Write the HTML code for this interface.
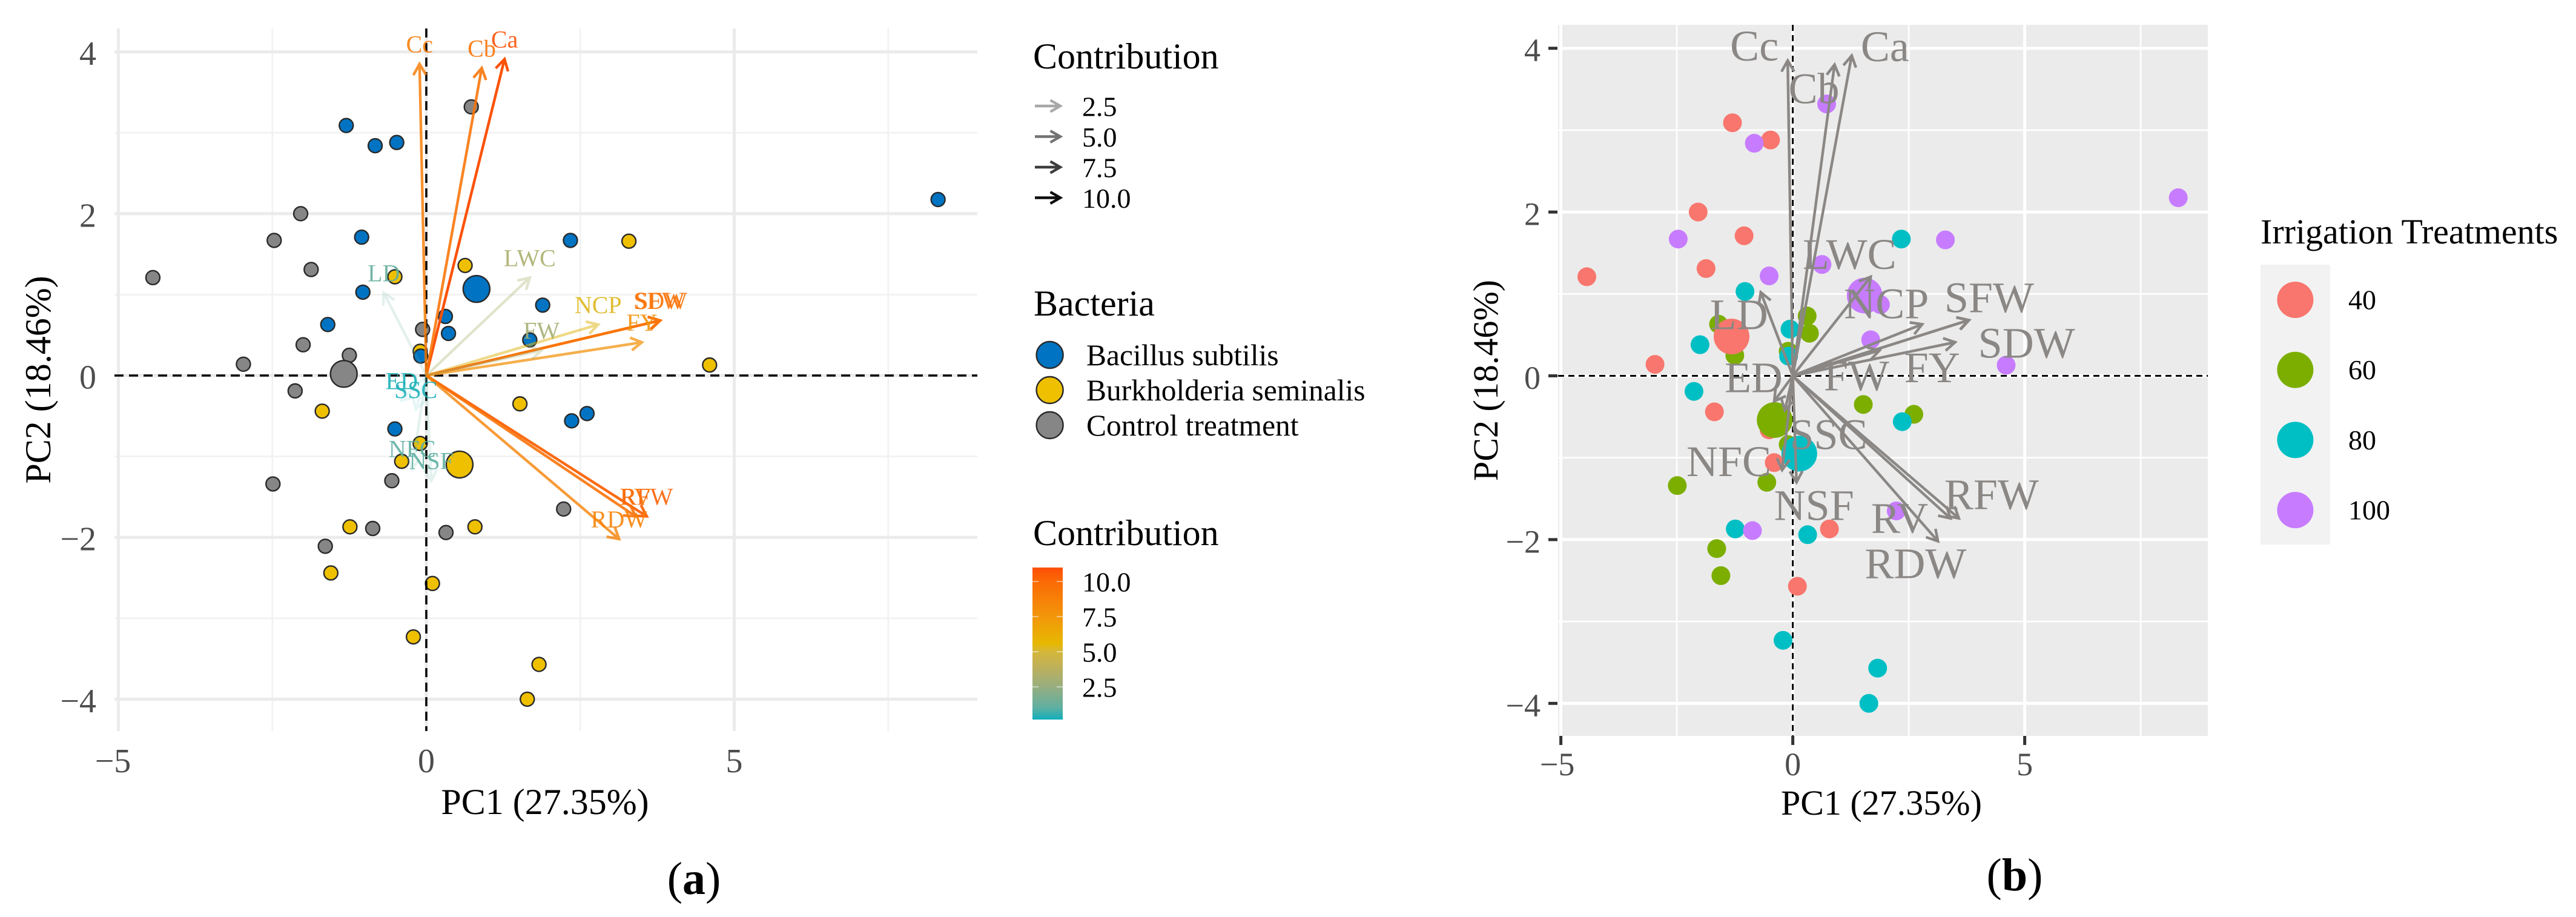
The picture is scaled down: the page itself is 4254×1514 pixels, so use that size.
<!DOCTYPE html>
<html lang="en">
<head>
<meta charset="utf-8">
<title>PCA biplots by bacteria and irrigation treatment</title>
<style>
  html, body { margin: 0; padding: 0; background: #fff; }
  svg { display: block; font-family: "Liberation Serif", serif; }
</style>
</head>
<body>
<svg id="figure" xmlns="http://www.w3.org/2000/svg" width="4254" height="1514" viewBox="0 0 4254 1514">
  <defs>
    <linearGradient id="contribution-gradient" x1="0" y1="1" x2="0" y2="0"></linearGradient>
  </defs>
  <rect x="0" y="0" width="4254" height="1514" fill="#ffffff"/>

  <g id="panel-a"></g>
  <g id="panel-b"></g>

  <text x="900" y="1344" font-size="60" text-anchor="middle" fill="#000">PC1 (27.35%)</text>
  <text transform="translate(83,627) rotate(-90)" font-size="60" text-anchor="middle" fill="#000">PC2 (18.46%)</text>
  <text x="3107" y="1345" font-size="58" text-anchor="middle" fill="#000">PC1 (27.35%)</text>
  <text transform="translate(2473,628) rotate(-90)" font-size="58" text-anchor="middle" fill="#000">PC2 (18.46%)</text>

  <g>
    <text x="1706" y="113" font-size="60" fill="#000">Contribution</text>
    <g id="alpha-legend-keys"></g>
  </g>

  <g>
    <text x="1707" y="521" font-size="60" fill="#000">Bacteria</text>
    <g id="bacteria-legend-keys"></g>
  </g>

  <g>
    <text x="1706" y="900" font-size="60" fill="#000">Contribution</text>
    <rect x="1705" y="937" width="50" height="251" fill="url(#contribution-gradient)"/>
    <g id="colorbar-ticks"></g>
  </g>

  <g>
    <text x="3733" y="402" font-size="58" fill="#000">Irrigation Treatments</text>
    <rect x="3733" y="437" width="115" height="462" fill="#F2F2F2"/>
    <g id="irrigation-legend-keys"></g>
  </g>

  <text x="1146" y="1476" font-size="76" text-anchor="middle" fill="#000">(<tspan font-weight="bold">a</tspan>)</text>
  <text x="3327" y="1470" font-size="76" text-anchor="middle" fill="#000">(<tspan font-weight="bold">b</tspan>)</text>
</svg>

<script>
// ---- Individuals (shared by both biplots) ----
const pc1 = [-1.30,-0.83,-0.48,-1.05,2.34,-1.03,-1.60,0.31,0.36,1.89,1.68,-0.09,2.61,2.36,-0.51,8.31,
             -0.10,0.63,-0.51,-1.69,3.29,4.60,1.52,-0.10,-0.40,-1.24,0.79,-1.55,0.10,-0.21,1.83,1.64,
             0.73,-2.04,-2.47,-1.87,-4.44,-2.00,-2.97,-1.25,-0.06,-2.13,-2.49,-0.56,-0.87,-1.64,0.32,2.23];
const pc2 = [3.09,2.84,2.88,1.71,1.67,1.03,0.63,0.73,0.52,0.87,0.44,0.24,-0.47,-0.56,-0.66,2.175,
             0.30,1.36,1.22,-0.44,1.66,0.13,-0.35,-0.84,-1.06,-1.87,-1.87,-2.44,-2.57,-3.23,-3.57,-4.00,
             3.32,2.00,1.67,1.31,1.21,0.38,0.14,0.25,0.57,-0.19,-1.34,-1.30,-1.89,-2.11,-1.94,-1.65];
const bacteriaOf = [0,0,0,0,0,0,0,0,0,0,0,0,0,0,0,0,
                    1,1,1,1,1,1,1,1,1,1,1,1,1,1,1,1,
                    2,2,2,2,2,2,2,2,2,2,2,2,2,2,2,2];
const irrigationOf = [0,3,0,0,2,2,1,1,1,3,3,2,1,2,0,3,
                      1,3,3,0,3,3,1,1,0,2,0,1,0,2,2,2,
                      3,0,3,0,0,2,0,1,2,2,1,1,3,1,2,3];

// ---- Group names and centroids ----
const bacteriaNames = ["Bacillus subtilis","Burkholderia seminalis","Control treatment"];
const bacteriaCentroidX = [0.815,0.54,-1.34];
const bacteriaCentroidY = [1.07,-1.10,0.02];
const irrigationNames = ["40","60","80","100"];
const irrigationCentroidX = [-1.32,-0.39,0.14,1.55];
const irrigationCentroidY = [0.48,-0.54,-0.95,0.98];

// ---- Variables (arrows) ----
const varNames = ["Ca","Cb","Cc","LWC","NCP","SFW","SDW","FY","FW","LD","ED","SSC","NFC","NSF","RFW","RV","RDW"];
const varPC1 = [1.27,0.90,-0.11,1.68,2.79,3.79,3.80,3.50,1.87,-0.69,-0.40,-0.17,-0.23,0.08,3.58,3.40,3.13];
const varPC2 = [3.91,3.80,3.85,1.21,0.63,0.68,0.68,0.41,0.31,1.02,-0.31,-0.42,-1.15,-1.30,-1.74,-1.74,-2.02];
const varContrib = [10.9,9.5,9.0,3.2,5.3,9.6,9.5,7.7,3.0,1.2,0.3,0.3,1.0,1.0,10.3,9.6,8.6];

// ---- Axis ticks ----
const xMajorTicks = [-5,0,5];
const xMinorTicks = [-2.5,2.5,7.5];
const yMajorTicks = [4,2,0,-2,-4];
const yMinorTicks = [3,1,-1,-3];
const contribTicks = [10,7.5,5,2.5];

// ---- Layout and style (not data) ----
const A = {left:189,right:1614,top:47,bottom:1207,x0:704,xu:101.7,y0:620,yu:133.6};
const B = {left:2573,right:3646,top:41,bottom:1215,x0:2960.6,xu:76.6,y0:620.5,yu:135.2};
const xA = v => A.x0 + A.xu*v, yA = v => A.y0 - A.yu*v;
const xB = v => B.x0 + B.xu*v, yB = v => B.y0 - B.yu*v;
const bacteriaFill = ["#0073C2","#EFC000","#868686"];
const irrigationFill = ["#F8766D","#7CAE00","#00BFC4","#C77CFF"];
const bacteriaDrawOrder = [1,0,2];
const gradientValues = [0.17,1,2.5,4,5,5.6,7.5,10,11];
const gradientColors = ["#0FAFBB","#5EAFA2","#97AE80","#C1B158","#D4B63A","#E7B800","#F2960A","#FB6A05","#FC4E07"];
const bLabelNudge = {Ca:[55,-15],Cb:[-34,40],Cc:[-55,-24],LWC:[-35,-37],NCP:[-59,-34],SFW:[34,-37],SDW:[95,38],
  FY:[-38,42],FW:[-38,42],LD:[-36,37],ED:[-34,-39],SSC:[72,40],NFC:[-88,-14],NSF:[29,38],RFW:[54,-39],RV:[-84,0],RDW:[-37,37]};

const NS = "http://www.w3.org/2000/svg";
const make = (parent, tag, attrs) => {
  const el = document.createElementNS(NS, tag);
  Object.keys(attrs).forEach(k => el.setAttribute(k, attrs[k]));
  parent.appendChild(el);
  return el;
};
const hexRgb = h => [1,3,5].map(i => parseInt(h.substr(i,2),16));
function contribColor(c) {
  let i = 0;
  while (i < gradientValues.length-2 && c > gradientValues[i+1]) i++;
  const t = Math.max(0, Math.min(1, (c-gradientValues[i])/(gradientValues[i+1]-gradientValues[i])));
  const a = hexRgb(gradientColors[i]), b = hexRgb(gradientColors[i+1]);
  return "rgb(" + a.map((v,k) => Math.round(v+(b[k]-v)*t)).join(",") + ")";
}
const contribAlpha = c => Math.min(1, 0.1 + 0.9*(c-0.17)/10.8);
function arrowPath(x0,y0,x1,y1,head) {
  const ang = Math.atan2(y1-y0,x1-x0), s = Math.PI/6;
  const hx1 = x1-head*Math.cos(ang-s), hy1 = y1-head*Math.sin(ang-s);
  const hx2 = x1-head*Math.cos(ang+s), hy2 = y1-head*Math.sin(ang+s);
  return `M${x0} ${y0}L${x1} ${y1}M${hx1} ${hy1}L${x1} ${y1}L${hx2} ${hy2}`;
}
const tickText = v => String(Math.abs(v)).replace(/^/, v<0 ? "\u2212" : "");

// ---- Colorbar gradient ----
const grad = document.getElementById("contribution-gradient");
gradientValues.forEach((v,i) => {
  make(grad,"stop",{offset:(v-0.17)/(11-0.17),"stop-color":gradientColors[i]});
});

// ---- Panel frame: background, grid, ticks ----
function drawFrame(g, P, xf, yf, opt) {
  if (opt.bg) {
    const bg = make(g,"rect",{x:P.left,y:P.top,width:P.right-P.left,height:P.bottom-P.top,fill:opt.bg});
    
    
  }
  xMinorTicks.forEach(v => {
    const l = make(g,"line",{x1:xf(v),x2:xf(v),y1:P.top,y2:P.bottom,stroke:opt.minor,"stroke-width":2.6});
    
    
  });
  yMinorTicks.forEach(v => {
    const l = make(g,"line",{x1:P.left,x2:P.right,y1:yf(v),y2:yf(v),stroke:opt.minor,"stroke-width":2.6});
    
    
  });
  xMajorTicks.forEach(v => {
    const l = make(g,"line",{x1:xf(v),x2:xf(v),y1:P.top,y2:P.bottom,stroke:opt.major,"stroke-width":5});
    
    
  });
  yMajorTicks.forEach(v => {
    const l = make(g,"line",{x1:P.left,x2:P.right,y1:yf(v),y2:yf(v),stroke:opt.major,"stroke-width":5});
    
    
  });
  xMajorTicks.forEach(v => {
    if (opt.tickMarks) {
      const m = make(g,"line",{x1:xf(v),x2:xf(v),y1:P.bottom,y2:P.bottom+15,stroke:"#333","stroke-width":5});
      
      
    }
    const t = make(g,"text",{x:xf(v)+(v<0?opt.negShift:0),y:opt.xTickY,"text-anchor":"middle","font-size":opt.tickSize,fill:"#4D4D4D"});
    t.textContent = tickText(v);
    
    
  });
  yMajorTicks.forEach(v => {
    if (opt.tickMarks) {
      const m = make(g,"line",{x1:P.left-16,x2:P.left-1,y1:yf(v),y2:yf(v),stroke:"#333","stroke-width":5});
      
      
    }
    const t = make(g,"text",{x:opt.yTickX,y:yf(v)+21.5,"text-anchor":"end","font-size":opt.tickSize,fill:"#4D4D4D"});
    t.textContent = tickText(v);
    
    
  });
}
function drawZeroLines(g, P, xf, yf, dash, w) {
  const h = make(g,"line",{x1:P.left,x2:P.right,y1:yf(0),y2:yf(0),stroke:"#000","stroke-width":w,"stroke-dasharray":dash});
  
  
  const v = make(g,"line",{x1:xf(0),x2:xf(0),y1:P.top,y2:P.bottom,stroke:"#000","stroke-width":w,"stroke-dasharray":dash});
  
  
}

// ---- Panel A ----
const gA = document.getElementById("panel-a");
drawFrame(gA, A, xA, yA, {major:"#EBEBEB",minor:"#F1F1F1",tickMarks:false,tickSize:56,xTickY:1275,yTickX:159,negShift:-9});
bacteriaDrawOrder.forEach(b => {
  pc1.forEach((x,i) => {
    if (bacteriaOf[i] !== b) return;
    const c = make(gA,"circle",{cx:xA(x),cy:yA(pc2[i]),r:11.5,fill:bacteriaFill[b],stroke:"#2a2a2a","stroke-width":2.4});
    
    
  });
});
drawZeroLines(gA, A, xA, yA, "15 9", 3.5);
bacteriaNames.forEach((n,b) => {
  const c = make(gA,"circle",{cx:xA(bacteriaCentroidX[b]),cy:yA(bacteriaCentroidY[b]),r:22,fill:bacteriaFill[b],stroke:"#2a2a2a","stroke-width":2.4});
  
  
});
varNames.forEach((n,i) => {
  const col = contribColor(varContrib[i]);
  const p = make(gA,"path",{d:arrowPath(xA(0),yA(0),xA(varPC1[i]),yA(varPC2[i]),21),fill:"none",stroke:col,"stroke-opacity":contribAlpha(varContrib[i]),"stroke-width":4.4});
  
  
});
varNames.forEach((n,i) => {
  const t = make(gA,"text",{x:xA(varPC1[i]),y:yA(varPC2[i])-32+13,"text-anchor":"middle","font-size":40,fill:contribColor(varContrib[i]),"fill-opacity":0.9});
  t.textContent = n;
  
  
});

// ---- Panel B ----
const gB = document.getElementById("panel-b");
drawFrame(gB, B, xB, yB, {bg:"#EBEBEB",major:"#FFFFFF",minor:"#FFFFFF",tickMarks:true,tickSize:54,xTickY:1280,yTickX:2544,negShift:-6});
drawZeroLines(gB, B, xB, yB, "10 7", 3);
irrigationNames.forEach((n,k) => {
  pc1.forEach((x,i) => {
    if (irrigationOf[i] !== k) return;
    const c = make(gB,"circle",{cx:xB(x),cy:yB(pc2[i]),r:15.5,fill:irrigationFill[k]});
    
    
  });
});
irrigationNames.forEach((n,k) => {
  const c = make(gB,"circle",{cx:xB(irrigationCentroidX[k]),cy:yB(irrigationCentroidY[k]),r:29.5,fill:irrigationFill[k]});
  
  
});
varNames.forEach((n,i) => {
  const p = make(gB,"path",{d:arrowPath(xB(0),yB(0),xB(varPC1[i]),yB(varPC2[i]),21),fill:"none",stroke:"#8A8785","stroke-width":4.4});
  
  
});
varNames.forEach((n,i) => {
  const nudge = bLabelNudge[n];
  const t = make(gB,"text",{x:xB(varPC1[i])+nudge[0],y:yB(varPC2[i])+nudge[1]+24,"text-anchor":"middle","font-size":72,fill:"#8A8785"});
  t.textContent = n;
  
  
});

// ---- Legends ----
const alphaKeys = document.getElementById("alpha-legend-keys");
const alphaLabels = ["2.5","5.0","7.5","10.0"];
const alphaShades = [0.34,0.55,0.76,0.95];
alphaLabels.forEach((lab,i) => {
  const cy = 175 + i*50.5;
  const p = make(alphaKeys,"path",{d:arrowPath(1709,cy,1751,cy,19),fill:"none",stroke:"#000","stroke-opacity":alphaShades[i],"stroke-width":4.4});
  
  
  const t = make(alphaKeys,"text",{x:1787,y:cy+16.5,"font-size":46,fill:"#000"});
  t.textContent = lab;
  
  
});

const bacteriaKeys = document.getElementById("bacteria-legend-keys");
bacteriaNames.forEach((n,i) => {
  const cy = 586 + i*58;
  const c = make(bacteriaKeys,"circle",{cx:1733.6,cy:cy,r:22,fill:bacteriaFill[i],stroke:"#2a2a2a","stroke-width":2.4});
  
  
  const t = make(bacteriaKeys,"text",{x:1794,y:cy+17,"font-size":49.5,fill:"#000"});
  t.textContent = n;
  
  
});

const cbTicks = document.getElementById("colorbar-ticks");
contribTicks.forEach(v => {
  const y = 960 + (10-v)*23.2;
  const l1 = make(cbTicks,"line",{x1:1705,x2:1715,y1:y,y2:y,stroke:"#fff","stroke-opacity":0.6,"stroke-width":1.6});
  
  
  const l2 = make(cbTicks,"line",{x1:1745,x2:1755,y1:y,y2:y,stroke:"#fff","stroke-opacity":0.6,"stroke-width":1.6});
  
  
  const t = make(cbTicks,"text",{x:1787,y:y+16.5,"font-size":46,fill:"#000"});
  t.textContent = v.toFixed(1);
  
  
});

const irrKeys = document.getElementById("irrigation-legend-keys");
irrigationNames.forEach((n,i) => {
  const cy = 495 + i*115.7;
  const c = make(irrKeys,"circle",{cx:3790.4,cy:cy,r:30,fill:irrigationFill[i]});
  
  
  const t = make(irrKeys,"text",{x:3878,y:cy+15.5,"font-size":46,fill:"#000"});
  t.textContent = n;
  
  
});
</script>
</body>
</html>
